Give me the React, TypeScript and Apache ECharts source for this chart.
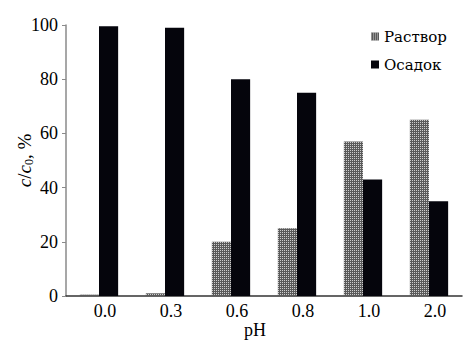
import React, { useEffect, useRef } from "react";
import * as echarts from "echarts";

const categories = ["0.0", "0.3", "0.6", "0.8", "1.0", "2.0"];
const rastvor = [0.5, 1, 20, 25, 57, 65];
const osadok = [99.5, 99, 80, 75, 43, 35];
const yTicks = [0, 20, 40, 60, 80, 100];

const FONT = "Liberation Serif, DejaVu Serif, serif";
const LEGEND_FONT = "DejaVu Serif";

export default function App() {
  const ref = useRef<HTMLDivElement>(null);
  useEffect(() => {
    if (!ref.current) return;
    const chart = echarts.init(ref.current, null, { renderer: "svg" });
    chart.setOption({
      animation: false,
      backgroundColor: "#ffffff",
      textStyle: { fontFamily: FONT },
      grid: { left: 66, right: 10, top: 25, bottom: 55 },
      legend: {
        orient: "vertical",
        left: 366,
        top: 24,
        itemWidth: 8,
        itemHeight: 8,
        itemGap: 13,
        icon: "rect",
        textStyle: { fontFamily: LEGEND_FONT, fontSize: 15, color: "#000" },
        data: ["Раствор", "Осадок"],
      },
      xAxis: {
        type: "category",
        data: categories,
        axisLine: { lineStyle: { color: "#333", width: 1.5 } },
        axisTick: { show: false },
        axisLabel: {
          fontFamily: FONT,
          fontSize: 18,
          color: "#000",
          margin: 6,
          padding: [0, 0, 0, 12],
        },
        name: "pH",
        nameLocation: "middle",
        nameGap: 25,
        nameMoveOverlap: false,
        nameTextStyle: { fontFamily: FONT, fontSize: 18, color: "#000", padding: [0, 18, 0, 0] },
      },
      yAxis: {
        type: "value",
        min: 0,
        max: 100,
        interval: 20,
        splitLine: { show: false },
        axisLine: { show: true, lineStyle: { color: "#8a8a8a", width: 1.5 } },
        axisTick: { show: true, length: 4, lineStyle: { color: "#8a8a8a" } },
        axisLabel: {
          fontFamily: FONT,
          fontSize: 18,
          color: "#000",
          margin: 8,
          formatter: (v: number) => (yTicks.includes(v) ? String(v) : ""),
        },
        name: "{i|c}{n|/}{i|c}{s|0}{n|, %}",
        nameLocation: "middle",
        nameRotate: 90,
        nameGap: 31,
        nameMoveOverlap: false,
        nameTextStyle: {
          fontFamily: FONT,
          fontSize: 18,
          color: "#000",
          rich: {
            i: { fontFamily: FONT, fontSize: 19, fontStyle: "italic", color: "#000" },
            n: { fontFamily: FONT, fontSize: 19, color: "#000" },
            s: { fontFamily: FONT, fontSize: 12, color: "#000", verticalAlign: "bottom", padding: [9, 0, 0, 0] },
          },
        },
      },
      series: [
        {
          name: "Раствор",
          type: "bar",
          data: rastvor,
          barGap: "0%",
          barCategoryGap: "42%",
          itemStyle: {
            color: "#5a5a5a",
            decal: {
              symbol: "rect",
              symbolSize: 1,
              color: "rgba(255,255,255,0.7)",
              dashArrayX: [1, 1],
              dashArrayY: [1, 1],
              rotation: 0,
            },
          },
        },
        {
          name: "Осадок",
          type: "bar",
          data: osadok,
          barGap: "0%",
          barCategoryGap: "42%",
          itemStyle: { color: "#05050c" },
        },
      ],
    });
    return () => chart.dispose();
  }, []);
  return <div ref={ref} style={{ width: 472, height: 351, position: "absolute", left: 0, top: 0 }} />;
}
